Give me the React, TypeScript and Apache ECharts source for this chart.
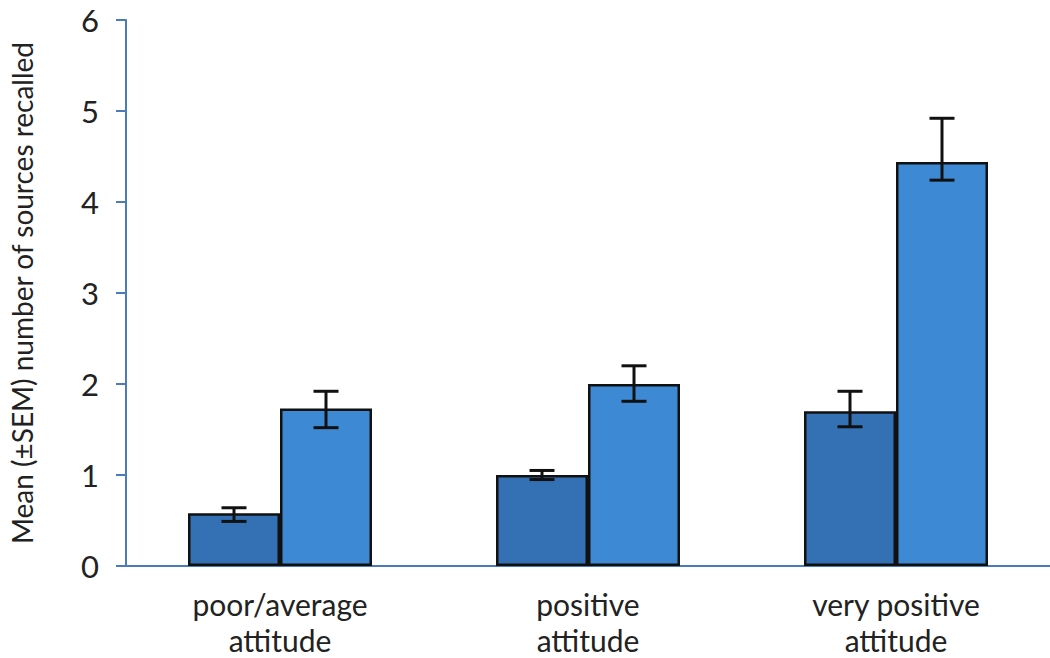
import React, { useEffect, useRef } from "react";
import * as echarts from "echarts";

const categories = ["poor/average\nattitude", "positive\nattitude", "very positive\nattitude"];
const darkValues = [0.58, 1.0, 1.7];
const darkLow = [0.49, 0.95, 1.53];
const darkHigh = [0.64, 1.05, 1.92];
const lightValues = [1.73, 2.0, 4.44];
const lightLow = [1.52, 1.81, 4.24];
const lightHigh = [1.92, 2.2, 4.92];
const yTicks = [0, 1, 2, 3, 4, 5, 6];

const BAR_W = 92;

function errorSeries(low: number[], high: number[], offset: number) {
  return {
    type: "custom",
    z: 10,
    data: low.map((l, i) => [i, l, high[i]]),
    encode: { x: 0, y: [1, 2] },
    renderItem: (params: any, api: any) => {
      const cat = api.value(0);
      const lo = api.coord([cat, api.value(1)]);
      const hi = api.coord([cat, api.value(2)]);
      const x = lo[0] + offset;
      const hw = 12.5;
      const st = { stroke: "#111", lineWidth: 3 };
      return {
        type: "group",
        children: [
          { type: "line", shape: { x1: x, y1: lo[1], x2: x, y2: hi[1] }, style: st },
          { type: "line", shape: { x1: x - hw, y1: lo[1], x2: x + hw, y2: lo[1] }, style: st },
          { type: "line", shape: { x1: x - hw, y1: hi[1], x2: x + hw, y2: hi[1] }, style: st },
        ],
      };
    },
  };
}

export default function App() {
  const ref = useRef<HTMLDivElement>(null);
  useEffect(() => {
    if (!ref.current) return;
    const chart = echarts.init(ref.current, null, { renderer: "svg" });
    const axisColor = "#4a7cba";
    chart.setOption({
      animation: false,
      grid: { left: 124, top: 20, width: 933, height: 548 },
      xAxis: {
        type: "category",
        data: categories,
        axisLine: { lineStyle: { color: axisColor, width: 2 } },
        axisTick: { length: 10, lineStyle: { color: axisColor, width: 2 } },
        axisLabel: {
          color: "#222",
          fontSize: 30,
          fontFamily: "Lato",
          lineHeight: 36,
          margin: 20,
        },
      },
      yAxis: {
        type: "value",
        min: 0,
        max: 6,
        interval: 1,
        name: "Mean (±SEM) number of sources recalled",
        nameLocation: "middle",
        nameGap: 90,
        nameTextStyle: { color: "#222", fontSize: 28, fontFamily: "Lato" },
        axisLine: { show: true, lineStyle: { color: axisColor, width: 2 } },
        axisTick: { show: true, length: 10, lineStyle: { color: axisColor, width: 2 } },
        splitLine: { show: false },
        axisLabel: {
          color: "#222",
          fontSize: 31,
          fontFamily: "Lato",
          margin: 27,
          formatter: (v: number) => (yTicks.includes(v) ? String(v) : ""),
        },
      },
      series: [
        {
          type: "bar",
          data: darkValues,
          barWidth: BAR_W,
          barGap: "0%",
          itemStyle: { color: "#3471b4", borderColor: "#111", borderWidth: 2.5 },
        },
        {
          type: "bar",
          data: lightValues,
          barWidth: BAR_W,
          barGap: "0%",
          itemStyle: { color: "#3e89d4", borderColor: "#111", borderWidth: 2.5 },
        },
        errorSeries(darkLow, darkHigh, -BAR_W / 2),
        errorSeries(lightLow, lightHigh, BAR_W / 2),
      ],
    });
    return () => chart.dispose();
  }, []);
  return (
    <div
      ref={ref}
      style={{ position: "fixed", left: 0, top: 0, width: 1050, height: 658, background: "#fff" }}
    />
  );
}
